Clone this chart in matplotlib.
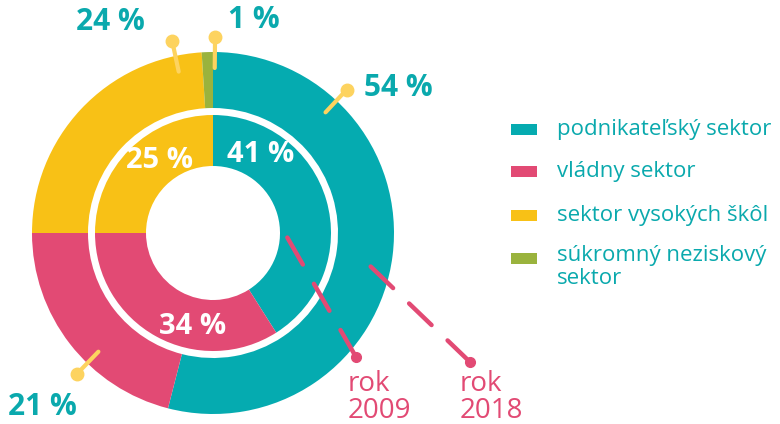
import numpy as np
import matplotlib.pyplot as plt
from matplotlib.patches import Rectangle

# podiel výdavkov na VaV podľa sektorov (v %)
sektory = ['podnikateľský sektor', 'vládny sektor', 'sektor vysokých škôl',
           'súkromný neziskový\nsektor']
farby = ['#05abb0', '#e24a74', '#f8c116', '#9ab33d']
rok_2009 = [41, 34, 25, 0]
rok_2018 = [54, 21, 24, 1]

TEAL = '#0aa9ad'
PINK = '#e24a74'
PIN = '#fdd35f'
W, H = 780, 424
cx, cy = 213, H - 233

plt.rcParams['font.family'] = ['Open Sans', 'DejaVu Sans']

fig = plt.figure(figsize=(W / 100, H / 100), dpi=100)
ax = fig.add_axes([0, 0, 1, 1])

# vonkajší prstenec 2018, vnútorný 2009
ax.pie(rok_2018, colors=farby, radius=181, center=(cx, cy), startangle=90,
       counterclock=False, wedgeprops=dict(width=56, linewidth=0))
ax.pie(rok_2009, colors=farby, radius=118, center=(cx, cy), startangle=90,
       counterclock=False, wedgeprops=dict(width=51, linewidth=0))

ax.set_xlim(0, W)
ax.set_ylim(0, H)
ax.set_aspect('equal')
ax.axis('off')


def bod(uhol, r):
    # uhol v stupňoch od 12. hodiny v smere hodinových ručičiek
    a = np.radians(uhol)
    return cx + r * np.sin(a), cy + r * np.cos(a)


# špendlíky pre popisky vonkajšieho prstenca
uhly_2018 = [43, 224, -12, 0.6]
for uhol in uhly_2018:
    x0, y0 = bod(uhol, 165)
    x1, y1 = bod(uhol, 196)
    ax.plot([x0, x1], [y0, y1], color=PIN, lw=3, solid_capstyle='round')
    ax.plot(x1, y1, 'o', color=PIN, ms=9)

popis = dict(color=TEAL, fontsize=21.5, fontweight='bold', va='center')
ax.text(364, H - 88, f'{rok_2018[0]} %', ha='left', **popis)
ax.text(42, H - 407, f'{rok_2018[1]} %', ha='center', **popis)
ax.text(110, H - 22, f'{rok_2018[2]} %', ha='center', **popis)
ax.text(254, H - 20, f'{rok_2018[3]} %', ha='center', **popis)

vnutri = dict(color='white', fontsize=21, fontweight='bold', va='center', ha='center')
ax.text(261, H - 155, f'{rok_2009[0]} %', **vnutri)
ax.text(193, H - 326, f'{rok_2009[1]} %', **vnutri)
ax.text(159, H - 160, f'{rok_2009[2]} %', **vnutri)

# čiarkované odkazy na roky (kreslené od bodky smerom k stredu)
odkazy = [((356, 357), (283, 230), 350, '2009'),
          ((470, 362), (367, 263), 462, '2018')]
for (a, b, tx, rok) in odkazy:
    ax.plot([a[0], b[0]], [H - a[1], H - b[1]], color=PINK, lw=3.2,
            dashes=(7, 5), dash_capstyle='round')
    ax.plot(a[0], H - a[1], 'o', color=PINK, ms=7)
    ax.text(tx - 2, H - 418, f'rok\n{rok}', color=PINK, fontsize=20,
            ha='left', va='baseline', linespacing=0.95)

# legenda
riadky_y = [129, 171, 215, 258]
for farba, nazov, y in zip(farby, sektory, riadky_y):
    ax.add_patch(Rectangle((511, H - y - 5.5), 26, 11, color=farba, lw=0))
    if '\n' in nazov:
        ax.text(557, H - y + 13, nazov, color=TEAL, fontsize=16, ha='left',
                va='top', linespacing=1.15)
    else:
        ax.text(557, H - y - 1, nazov, color=TEAL, fontsize=16, ha='left',
                va='center')

fig.savefig('out.png', dpi=100)
